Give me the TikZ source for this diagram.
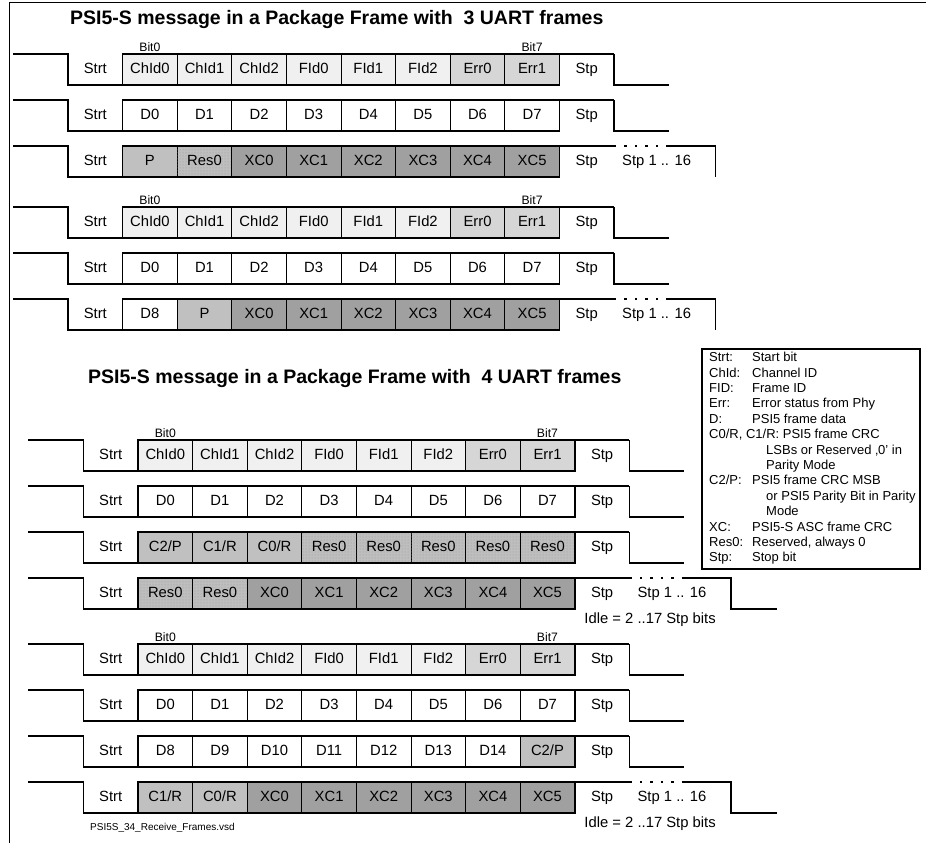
\documentclass[tikz,border=0pt]{standalone}
\usepackage{fontspec}
\setmainfont{Liberation Sans}
\usepackage{tikz}
\usetikzlibrary{calc,positioning,patterns}
\usepackage{xcolor}
\definecolor{psiid}{RGB}{240,240,240}
\definecolor{psierr}{RGB}{214,214,214}
\definecolor{psicrc}{RGB}{192,192,192}
\definecolor{psires}{RGB}{190,190,190}
\definecolor{psixc}{RGB}{160,160,160}

\tikzset{
  celltxt/.style={font=\fontsize{14.8}{16}\selectfont},
  bitslot/.style={celltxt,minimum width=54.6pt,minimum height=31pt,inner sep=0pt,outer sep=0pt,
    text height=10.6pt,text depth=3.1pt,anchor=north west},
  bitcell/.style={bitslot,draw,line width=0.8pt},
  stipple/.code={\edef\cellcol{#1}\def\rescol{psires}%
    \ifx\cellcol\rescol\pgfkeysalso{postaction={pattern=dots,pattern color=black!40}}\fi},
  sigline/.style={line width=1.7pt},
  stpdots/.style={line width=2.4pt,dash pattern=on 2.4pt off 8.04pt},
  bitlbl/.style={font=\fontsize{12.2}{13}\selectfont,above=2.5pt,inner sep=0pt},
  hdr/.style={font=\fontsize{19.5}{22}\selectfont\bfseries,anchor=west,inner sep=0pt},
  keytxt/.style={font=\fontsize{13}{15.4}\selectfont,align=left,anchor=north west,inner sep=0pt},
}

% one UART frame: name, x of start edge, top, cells
\newcommand{\uartbits}[4]{%
  \node[bitslot] (#1-s) at (#2,#3) {Strt};
  \foreach \lab/\col [count=\i] in {#4}
    \node[bitcell,fill=\col,stipple=\col] (#1-\i) at ({#2+54.6*\i},#3) {\lab};
  \node[bitslot] (#1-p) at ({#2+54.6*9},#3) {Stp};
  \draw[sigline] ([xshift=-55pt]#1-s.north west) -- (#1-s.north west) -- (#1-s.south west) -- (#1-8.south east) -- (#1-8.north east);
  \draw[sigline] (#1-1.south west) -- (#1-1.north west) -- (#1-p.north east);
}
\newcommand{\uartrow}[4]{\uartbits{#1}{#2}{#3}{#4}
  \draw[sigline] (#1-p.north east) -- (#1-p.south east) -- ++(54.6,0);}
\newcommand{\uartlast}[5]{\uartbits{#1}{#2}{#3}{#4}
  \draw[stpdots] (#1-p.north east) -- ++(54.6,0) coordinate (#1-q);
  \draw[sigline] (#1-q) -- ++(47,0) -- ++(0,31) #5;
  \node[celltxt,anchor=base west,inner sep=0pt] (#1-n) at ([xshift=8pt]#1-p.base east) {Stp 1 .. 16};}

\begin{document}
\begin{tikzpicture}[x=1pt,y=-1pt]
  \useasboundingbox (0,0) rectangle (926,843);
  \draw[line width=0.8pt] (9,843) -- (9,2) -- (926,2);

  % package frame with 3 UART frames
  \node[hdr] (ttl3) at (70,20) {PSI5-S message in a Package Frame with\ \ 3 UART frames};
  \uartrow{t1}{68}{54}{ChId0/psiid,ChId1/psiid,ChId2/psiid,FId0/psiid,FId1/psiid,FId2/psiid,Err0/psierr,Err1/psierr}
  \uartrow{t2}{68}{100}{D0/white,D1/white,D2/white,D3/white,D4/white,D5/white,D6/white,D7/white}
  \uartlast{t3}{68}{146}{P/psicrc,Res0/psires,XC0/psixc,XC1/psixc,XC2/psixc,XC3/psixc,XC4/psixc,XC5/psixc}{}
  \uartrow{t4}{68}{207}{ChId0/psiid,ChId1/psiid,ChId2/psiid,FId0/psiid,FId1/psiid,FId2/psiid,Err0/psierr,Err1/psierr}
  \uartrow{t5}{68}{253}{D0/white,D1/white,D2/white,D3/white,D4/white,D5/white,D6/white,D7/white}
  \uartlast{t6}{68}{299}{D8/white,P/psicrc,XC0/psixc,XC1/psixc,XC2/psixc,XC3/psixc,XC4/psixc,XC5/psixc}{}

  % package frame with 4 UART frames
  \node[hdr] (ttl4) at (88,378) {PSI5-S message in a Package Frame with\ \ 4 UART frames};
  \uartrow{b1}{83.4}{440}{ChId0/psiid,ChId1/psiid,ChId2/psiid,FId0/psiid,FId1/psiid,FId2/psiid,Err0/psierr,Err1/psierr}
  \uartrow{b2}{83.4}{486}{D0/white,D1/white,D2/white,D3/white,D4/white,D5/white,D6/white,D7/white}
  \uartrow{b3}{83.4}{532}{{C2/P}/psicrc,{C1/R}/psicrc,{C0/R}/psicrc,Res0/psires,Res0/psires,Res0/psires,Res0/psires,Res0/psires}
  \uartlast{b4}{83.4}{578}{Res0/psires,Res0/psires,XC0/psixc,XC1/psixc,XC2/psixc,XC3/psixc,XC4/psixc,XC5/psixc}{-- ++(46,0)}
  \uartrow{b5}{83.4}{644}{ChId0/psiid,ChId1/psiid,ChId2/psiid,FId0/psiid,FId1/psiid,FId2/psiid,Err0/psierr,Err1/psierr}
  \uartrow{b6}{83.4}{690}{D0/white,D1/white,D2/white,D3/white,D4/white,D5/white,D6/white,D7/white}
  \uartrow{b7}{83.4}{736}{D8/white,D9/white,D10/white,D11/white,D12/white,D13/white,D14/white,{C2/P}/psicrc}
  \uartlast{b8}{83.4}{782}{{C1/R}/psicrc,{C0/R}/psicrc,XC0/psixc,XC1/psixc,XC2/psixc,XC3/psixc,XC4/psixc,XC5/psixc}{-- ++(46,0)}

  \foreach \r in {t1,t4,b1,b5} {
    \node[bitlbl] (\r-b0) at (\r-1.north) {Bit0};
    \node[bitlbl] (\r-b7) at (\r-8.north) {Bit7};
  }
  \node[celltxt,anchor=north] (b4-idle) at ([xshift=48pt,yshift=0pt]b4-p.south) {Idle = 2 ..17 Stp bits};
  \node[celltxt,anchor=north] (b8-idle) at ([xshift=48pt,yshift=0pt]b8-p.south) {Idle = 2 ..17 Stp bits};

  % legend
  \draw[line width=1.8pt] (702,349) rectangle (920,569);
  \node[keytxt] (key) at (709,352) {%
    \makebox[43pt][l]{Strt:}Start bit\\
    \makebox[43pt][l]{ChId:}Channel ID\\
    \makebox[43pt][l]{FID:}Frame ID\\
    \makebox[43pt][l]{Err:}Error status from Phy\\
    \makebox[43pt][l]{D:}PSI5 frame data\\
    C0/R, C1/R: PSI5 frame CRC\\
    \hspace*{57pt}LSBs or Reserved ‚0' in\\
    \hspace*{57pt}Parity Mode\\
    \makebox[43pt][l]{C2/P:}PSI5 frame CRC MSB\\
    \hspace*{57pt}or PSI5 Parity Bit in Parity\\
    \hspace*{57pt}Mode\\
    \makebox[43pt][l]{XC:}PSI5-S ASC frame CRC\\
    \makebox[43pt][l]{Res0:}Reserved, always 0\\
    \makebox[43pt][l]{Stp:}Stop bit};

  \node[font=\fontsize{10}{11}\selectfont,anchor=west,inner sep=0pt] (fname) at (90,828) {PSI5S\_34\_Receive\_Frames.vsd};
\end{tikzpicture}
\end{document}
